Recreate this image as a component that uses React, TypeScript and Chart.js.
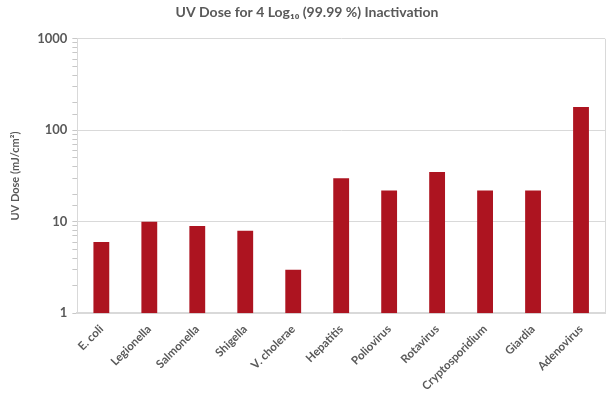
import { useEffect, useRef } from 'react';
import { Chart, registerables } from 'chart.js';
Chart.register(...registerables);

const categories = ['E. coli', 'Legionella', 'Salmonella', 'Shigella', 'V. cholerae', 'Hepatitis', 'Poliovirus', 'Rotavirus', 'Cryptosporidium', 'Giardia', 'Adenovirus'];
const doses = [6, 10, 9, 8, 3, 30, 22, 35, 22, 22, 180];
const majorTicks = [1, 10, 100, 1000];
const titleText = 'UV Dose for 4 Log\u2081\u2080 (99.99 %) Inactivation';
const yTitle = 'UV Dose (mJ/cm\u00B2)';

const FONT = 'Lato, "Open Sans", sans-serif';
const TEXT = '#595959';
const GRID = '#d9d9d9';

const rightBorder = {
  id: 'rightBorder',
  afterDraw(chart: any) {
    const { ctx, chartArea } = chart;
    ctx.save();
    ctx.strokeStyle = GRID;
    ctx.lineWidth = 1;
    ctx.beginPath();
    ctx.moveTo(chartArea.right + 0.5, chartArea.top);
    ctx.lineTo(chartArea.right + 0.5, chartArea.bottom);
    ctx.stroke();
    ctx.restore();
  },
};

export default function App() {
  const ref = useRef<HTMLCanvasElement>(null);
  useEffect(() => {
    const chart = new Chart(ref.current!, {
      type: 'bar',
      data: {
        labels: categories,
        datasets: [{
          data: doses,
          backgroundColor: '#AD1420',
          borderWidth: 0,
          barPercentage: 0.33,
          categoryPercentage: 1,
        }],
      },
      plugins: [rightBorder],
      options: {
        animation: false,
        responsive: true,
        maintainAspectRatio: false,
        layout: { padding: { left: 9, right: 8, top: 4, bottom: 5 } },
        plugins: {
          legend: { display: false },
          tooltip: { enabled: false },
          title: {
            display: true,
            text: titleText,
            color: TEXT,
            font: { family: FONT, size: 14, weight: 'bold' },
            padding: { top: 0, bottom: 18 },
          },
        },
        scales: {
          x: {
            grid: { display: false },
            border: { color: GRID, width: 2 },
            ticks: {
              color: TEXT,
              font: { family: FONT, size: 11.5, weight: 'bold' },
              minRotation: 45,
              maxRotation: 45,
              autoSkip: false,
              padding: 1,
            },
          },
          y: {
            type: 'logarithmic',
            min: 1,
            max: 1000,
            border: { color: GRID, width: 1 },
            grid: {
              color: (ctx: any) => (ctx.tick && majorTicks.includes(ctx.tick.value) ? GRID : 'rgba(0,0,0,0)'),
              tickColor: '#c8c8c8',
              tickLength: 5,
            },
            ticks: {
              autoSkip: false,
              color: TEXT,
              font: { family: FONT, size: 13, weight: 'bold' },
              padding: 5,
              callback: (v: any) => (majorTicks.includes(Number(v)) ? String(v) : ''),
            },
            title: {
              display: true,
              text: yTitle,
              color: TEXT,
              font: { family: FONT, size: 11, weight: 'bold' },
              padding: { top: 0, bottom: 10 },
            },
          },
        },
      },
    });
    return () => chart.destroy();
  }, []);
  return (
    <div style={{ position: 'absolute', left: 0, top: 0, width: 613, height: 399 }}>
      <canvas ref={ref} />
    </div>
  );
}
